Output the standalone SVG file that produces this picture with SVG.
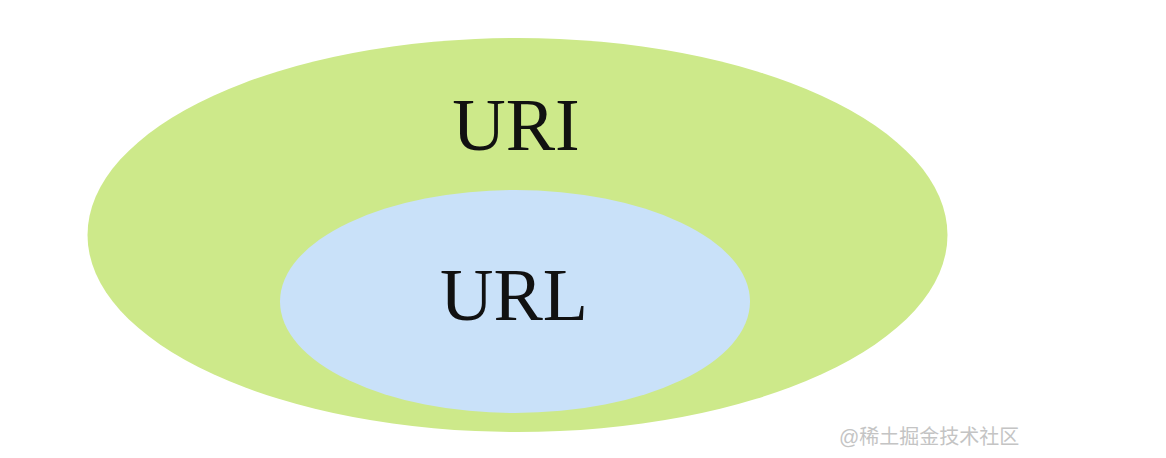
<svg xmlns="http://www.w3.org/2000/svg" width="1166" height="458" viewBox="0 0 1166 458">
<style>
.lbl{font-family:"Liberation Serif","Times New Roman",serif;font-size:74px;fill:#111;text-anchor:middle}
.wm{font-family:"Liberation Sans","Noto Sans CJK SC",sans-serif;font-size:20px;fill:#c4c4c4}
</style>
<rect width="1166" height="458" fill="#ffffff"/>
<g id="uri">
<ellipse cx="517.5" cy="235" rx="430" ry="197" fill="#cde98a"/>
<text class="lbl" x="516" y="150">URI</text>
</g>
<g id="url">
<ellipse cx="515" cy="301.5" rx="235" ry="111.5" fill="#c9e1f9"/>
<text class="lbl" x="514" y="320">URL</text>
</g>
<g id="connectors"></g>
<text class="wm" x="839" y="444">@稀土掘金技术社区</text>
</svg>
